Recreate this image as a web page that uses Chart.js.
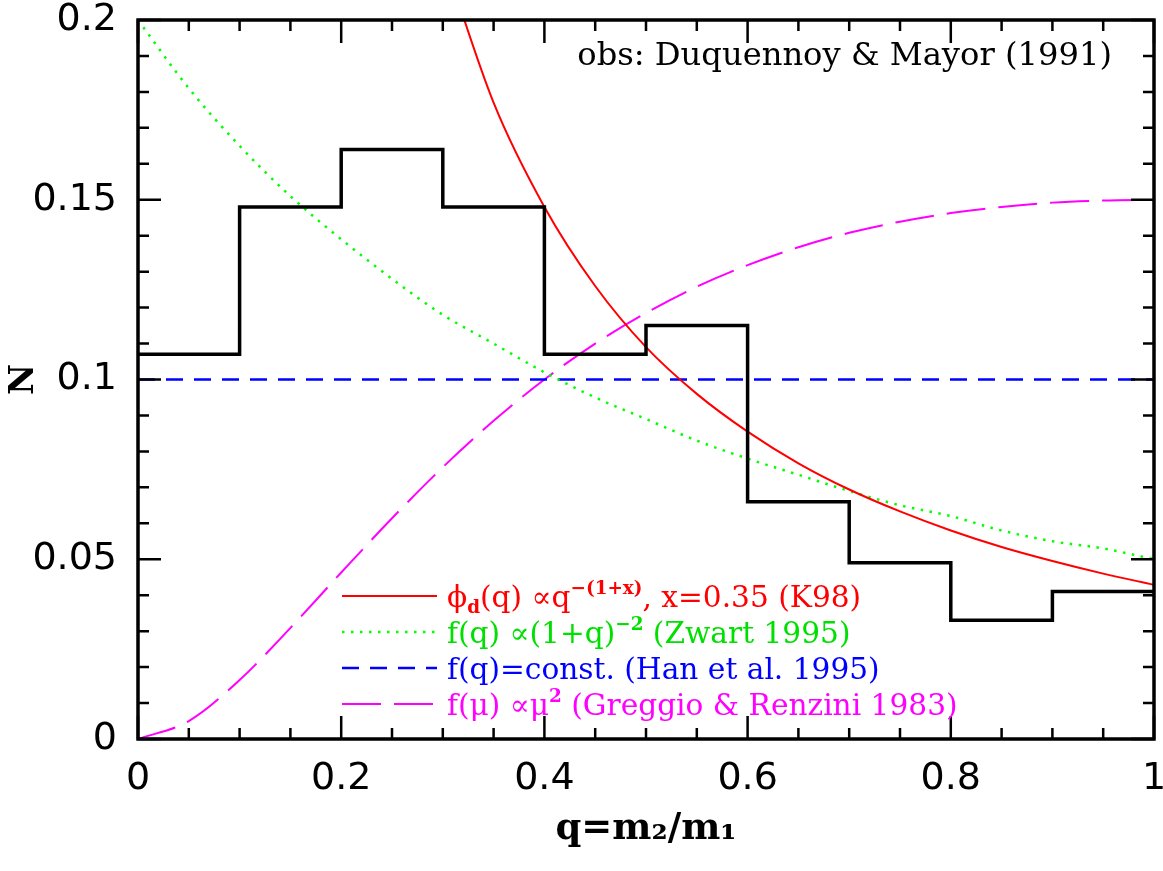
<!DOCTYPE html>
<html lang="en">
<head>
<meta charset="UTF-8">
<title>Mass ratio distribution</title>
<script src="https://cdn.jsdelivr.net/npm/chart.js@4"></script>
<style>
  html, body { margin: 0; padding: 0; background: #fff; }
</style>
</head>
<body>
<canvas id="qChart" width="1163" height="871"></canvas>
<script>
// histogram (Duquennoy & Mayor 1991), bins of width 0.1
const binEdges = [0, 0.1, 0.2, 0.3, 0.4, 0.5, 0.6, 0.7, 0.8, 0.9, 1.0];
const obsN = [0.107, 0.148, 0.164, 0.148, 0.107, 0.115, 0.066, 0.049, 0.033, 0.041];

// red: phi_d(q) ~ q^-(1+x)
const qRed = [0.30, 0.35, 0.40, 0.45, 0.50, 0.55, 0.60, 0.65, 0.70, 0.75, 0.80, 0.85, 0.90, 0.95, 1.00];
const nRed = [0.218, 0.177, 0.148, 0.126, 0.109, 0.096, 0.0855, 0.0767, 0.0694, 0.0633, 0.058, 0.0534, 0.0495, 0.046, 0.0429];

// green (Zwart) and magenta (Greggio & Renzini), read on the same q grid
const qGrid = [0, 0.05, 0.1, 0.15, 0.2, 0.25, 0.3, 0.35, 0.4, 0.45, 0.5, 0.55, 0.6, 0.65, 0.7, 0.75, 0.8, 0.85, 0.9, 0.95, 1.0];
const nGreen = [0.2, 0.181, 0.165, 0.151, 0.139, 0.128, 0.118, 0.110, 0.102, 0.095, 0.089, 0.083, 0.078, 0.0735, 0.069, 0.065, 0.062, 0.058, 0.055, 0.053, 0.05];
const nMagenta = [0, 0.005, 0.0164, 0.0309, 0.0463, 0.0614, 0.0756, 0.0885, 0.1, 0.11, 0.1185, 0.1258, 0.1318, 0.1368, 0.1408, 0.1439, 0.1463, 0.148, 0.1492, 0.1498, 0.15];

// blue: constant
const qBlue = [0, 1];
const nBlue = [0.1, 0.1];

const toPts = (xs, ys) => xs.map((x, i) => ({ x: x, y: ys[i] }));

// stepped histogram: left edge of each bin + closing right edge
const histPts = binEdges.map((e, i) => ({ x: e, y: obsN[Math.min(i, obsN.length - 1)] }));

const legendRows = [
  { color: '#ff0000', dash: [], width: 2,
    parts: [{ t: 'ϕ' }, { t: 'd', sub: true }, { t: '(q) ∝q' }, { t: '−(1+x)', sup: true }, { t: ', x=0.35 (K98)' }] },
  { color: '#00e000', dash: [2.5, 6.5], width: 2.5, lineColor: '#00ff00',
    parts: [{ t: 'f(q) ∝(1+q)' }, { t: '−2', sup: true }, { t: ' (Zwart 1995)' }] },
  { color: '#0000ff', dash: [17, 11], width: 2.5,
    parts: [{ t: 'f(q)=const. (Han et al. 1995)' }] },
  { color: '#ff00ff', dash: [39, 13], width: 2,
    parts: [{ t: 'f(μ) ∝μ' }, { t: '2', sup: true }, { t: ' (Greggio & Renzini 1983)' }] }
];

function fitFont(ctx, text, family, weight, target) {
  ctx.font = weight + ' 100px "' + family + '"';
  return 100 * target / ctx.measureText(text).width;
}

function drawRich(ctx, x, y, parts, size, family) {
  ctx.textBaseline = 'alphabetic';
  ctx.textAlign = 'left';
  for (const p of parts) {
    let s = size, dy = 0;
    if (p.sub) { s = size * 0.62; dy = size * 0.2; }
    if (p.sup) { s = size * 0.62; dy = -size * 0.42; }
    ctx.font = (p.sub || p.sup ? 'bold ' : '') + s + 'px "' + family + '"';
    ctx.fillText(p.t, x, y + dy);
    x += ctx.measureText(p.t).width;
  }
}

const frameAndLabels = {
  id: 'frameAndLabels',
  afterDatasetsDraw(chart) {
    const { ctx, chartArea: a, scales: { x, y } } = chart;
    ctx.save();
    // tick marks on all four sides
    ctx.strokeStyle = '#000';
    ctx.lineWidth = 2.5;
    ctx.beginPath();
    for (let i = 0; i <= 20; i++) {
      const px = x.getPixelForValue(i * 0.05);
      const len = i % 4 === 0 ? 23 : 11;
      ctx.moveTo(px, a.bottom); ctx.lineTo(px, a.bottom - len);
      ctx.moveTo(px, a.top); ctx.lineTo(px, a.top + len);
    }
    for (let i = 0; i <= 20; i++) {
      const py = y.getPixelForValue(i * 0.01);
      const len = i % 5 === 0 ? 23 : 11;
      ctx.moveTo(a.left, py); ctx.lineTo(a.left + len, py);
      ctx.moveTo(a.right, py); ctx.lineTo(a.right - len, py);
    }
    ctx.stroke();
    ctx.lineWidth = 3.5;
    ctx.strokeRect(a.left, a.top, a.right - a.left, a.bottom - a.top);

    // source note, top right
    ctx.fillStyle = '#000';
    const obsText = 'obs: Duquennoy & Mayor (1991)';
    const obsSize = fitFont(ctx, obsText, 'DejaVu Serif', 'normal', 535);
    ctx.font = obsSize + 'px "DejaVu Serif"';
    ctx.textAlign = 'right';
    ctx.textBaseline = 'middle';
    ctx.fillText(obsText, 1112, 57);

    // legend
    const lgSize = fitFont(ctx, 'f(q)=const. (Han et al. 1995)', 'DejaVu Serif', 'normal', 433);
    legendRows.forEach((r, i) => {
      const ly = 596 + i * 36;
      ctx.strokeStyle = r.lineColor || r.color;
      ctx.lineWidth = r.width;
      ctx.setLineDash(r.dash);
      ctx.beginPath();
      ctx.moveTo(342, ly); ctx.lineTo(437, ly);
      ctx.stroke();
      ctx.setLineDash([]);
      ctx.fillStyle = r.color;
      drawRich(ctx, 447, ly + lgSize * 0.36, r.parts, lgSize, 'DejaVu Serif');
    });
    ctx.restore();
  }
};

const fmt = v => String(+Number(v).toFixed(2));

const ctx = document.getElementById('qChart').getContext('2d');
new Chart(ctx, {
  type: 'line',
  data: {
    datasets: [
      { label: 'obs', data: histPts, stepped: 'before', borderColor: '#000', borderWidth: 3.5, pointRadius: 0, fill: false },
      { label: 'K98', data: toPts(qRed, nRed), borderColor: '#ff0000', borderWidth: 2, pointRadius: 0, cubicInterpolationMode: 'monotone', fill: false },
      { label: 'Zwart', data: toPts(qGrid, nGreen), borderColor: '#00ff00', borderWidth: 2.5, borderDash: [2.5, 6.5], pointRadius: 0, cubicInterpolationMode: 'monotone', fill: false },
      { label: 'Han', data: toPts(qBlue, nBlue), borderColor: '#0000ff', borderWidth: 2.5, borderDash: [17, 11], pointRadius: 0, fill: false },
      { label: 'GR83', data: toPts(qGrid, nMagenta), borderColor: '#ff00ff', borderWidth: 2, borderDash: [39, 13], pointRadius: 0, cubicInterpolationMode: 'monotone', fill: false }
    ]
  },
  options: {
    responsive: false,
    animation: false,
    layout: { autoPadding: false, padding: { top: 20, right: 9, left: 0, bottom: 0 } },
    plugins: { legend: { display: false }, tooltip: { enabled: false } },
    scales: {
      x: {
        type: 'linear', min: 0, max: 1,
        ticks: { stepSize: 0.2, padding: 17, color: '#000', font: { family: 'DejaVu Sans', size: 38 }, callback: fmt },
        grid: { display: false, drawTicks: false },
        border: { display: false },
        title: { display: true, text: 'q=m₂/m₁', color: '#000', font: { family: 'DejaVu Serif', size: 37, weight: 'bold' }, padding: { bottom: 19 } },
        afterFit: s => { s.height = 132; s.paddingLeft = 0; s.paddingRight = 0; }
      },
      y: {
        type: 'linear', min: 0, max: 0.2,
        ticks: { stepSize: 0.05, padding: 21, color: '#000', font: { family: 'DejaVu Sans', size: 38 }, callback: fmt },
        grid: { display: false, drawTicks: false },
        border: { display: false },
        title: { display: true, text: 'N', color: '#000', font: { family: 'DejaVu Serif', size: 34, weight: 'bold' }, padding: { top: 4 } },
        afterFit: s => { s.width = 138; s.paddingTop = 0; s.paddingBottom = 0; }
      }
    }
  },
  plugins: [frameAndLabels]
});
</script>
</body>
</html>
